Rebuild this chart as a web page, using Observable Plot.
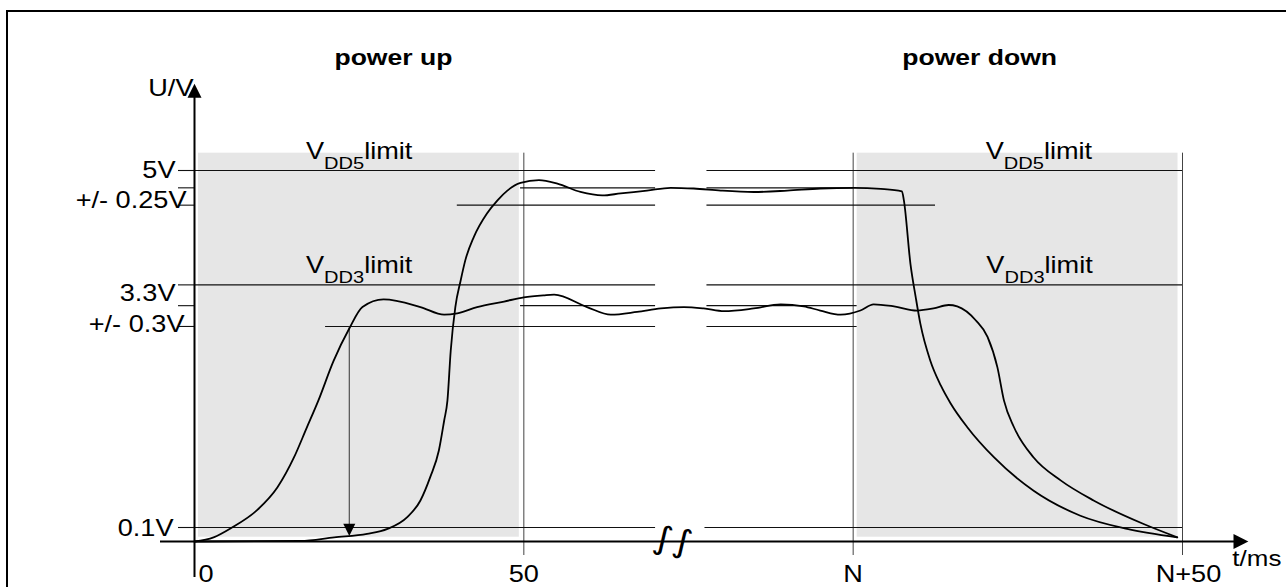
<!DOCTYPE html>
<html>
<head>
<meta charset="utf-8">
<script src="https://cdn.jsdelivr.net/npm/d3@7"></script>
<script src="https://cdn.jsdelivr.net/npm/@observablehq/plot@0.6"></script>
<style>
  html, body { margin: 0; padding: 0; background: #fff; overflow: hidden; }
  #chart { position: relative; width: 1286px; height: 587px; overflow: hidden; }
  #chart svg { display: block; overflow: hidden; }
  #border { position: absolute; left: 6.4px; top: 10.4px; width: 1400px; height: 700px;
            border-left: 2.6px solid #000; border-top: 2.6px solid #000; pointer-events: none; }
</style>
</head>
<body>
<div id="chart"><div id="border"></div></div>
<script>
// ---------- data (t in ms-axis units: 0..50 = power up, 100 = N, 150 = N+50; v in volts) ----------
const vdd3T = [0, 2.9, 5.7, 9.5, 12.6, 15.1, 17.0, 18.8, 21.1, 23.5, 25.5, 28.7, 34.3, 37.9, 39.9, 42.9, 47.0, 50.0, 53.0, 54.6, 59.6, 63.2, 67.2, 70.8, 74.3, 77.3, 80.4, 84.9, 89.0, 92.5, 95.0, 98.1, 101.1, 103.1, 106.2, 109.7, 112.2, 114.5, 115.8, 118.6, 120.4, 121.9, 122.9, 124.4, 127.4, 131.5, 136.5, 144.1, 149.2];
const vdd3V = [0, 0.03, 0.10, 0.35, 0.68, 1.11, 1.53, 1.93, 2.50, 2.97, 3.28, 3.39, 3.28, 3.17, 3.19, 3.28, 3.36, 3.42, 3.45, 3.46, 3.28, 3.17, 3.21, 3.26, 3.28, 3.26, 3.22, 3.26, 3.32, 3.29, 3.23, 3.17, 3.23, 3.32, 3.29, 3.23, 3.26, 3.31, 3.29, 3.09, 2.85, 2.41, 1.93, 1.55, 1.11, 0.78, 0.49, 0.15, 0.03];

const vdd5T = [0, 16.1, 21.2, 26.2, 29.3, 32.3, 34.3, 35.8, 37.1, 37.9, 38.4, 38.9, 39.6, 40.4, 41.1, 42.4, 44.4, 46.0, 47.5, 49.5, 52.3, 55.1, 58.6, 61.9, 64.7, 68.7, 72.3, 75.8, 79.9, 84.9, 90.0, 95.0, 100.1, 104.2, 107.4, 107.7, 108.7, 109.5, 110.2, 111.7, 113.3, 114.8, 117.3, 121.4, 127.4, 134.5, 141.6, 149.2];
const vdd5V = [0, 0.004, 0.03, 0.055, 0.09, 0.25, 0.49, 0.83, 1.21, 1.64, 1.93, 2.65, 3.28, 3.66, 3.95, 4.29, 4.63, 4.82, 4.96, 5.07, 5.11, 5.06, 4.94, 4.89, 4.92, 4.96, 5.0, 4.99, 4.96, 4.94, 4.96, 4.99, 5.0, 4.985, 4.95, 4.82, 3.9, 3.42, 3.04, 2.51, 2.15, 1.89, 1.55, 1.11, 0.63, 0.27, 0.09, 0.03];

// limit / tolerance reference lines (level, start, end)
const refLevel = [5.25, 5.0, 4.75, 3.6, 3.3, 3.0, 0.1, 5.25, 5.0, 4.75, 3.6, 3.3, 3.0, 0.1];
const refStart = [0, 49.5, 39.9, 0, 49.5, 19.9, 0, 77.8, 77.8, 77.8, 77.8, 77.8, 77.8, 77.5];
const refEnd   = [70, 70, 70, 70, 70, 70, 70, 150, 100, 112.5, 150, 100.6, 100.6, 150];

// shaded windows
const shadeStart = [0, 100];
const shadeEnd = [50, 150];
const shadeTop = 5.5;

// axes
const yTickValues = [5.25, 5.0, 4.75, 3.6, 3.3, 3.0, 0.1];
const yTickLabels = ["5V", "", "+/- 0.25V", "3.3V", "", "+/- 0.3V", "0.1V"];
const xTickValues = [0, 50, 100, 150];
const xTickLabels = ["0", "50", "N", "N+50"];
const yAxisTop = 6.5;
const xAxisEnd = 160;
const breakAt = 72.6;

// annotations
const titleText = ["power up", "power down"];
const titleT = [30.2, 119.2];
const titleLevel = 6.77;
const limitText = ["V_DD5limit", "V_DD3limit", "V_DD5limit", "V_DD3limit"];
const limitT = [25, 25, 128.2, 128.3];
const limitLevel = [5.25, 3.6, 5.25, 3.6];
const markerT = 23.5;       // V_DD3 reaches 3.0 V
const markerFrom = 3.0;
const markerTo = 0.04;      // V_DD5 at that instant

// ---------- helpers ----------
const FONT = "'Liberation Sans', Arial, Helvetica, sans-serif";
const idx = (a) => a.map((_, i) => i);
const head = (dir) => ({
  draw(ctx, size) {
    const r = Math.sqrt(size / Math.PI), w = 1.4 * r, h = 2.8 * r;
    if (dir === "up") { ctx.moveTo(0, 0); ctx.lineTo(-w, h); ctx.lineTo(w, h); }
    else if (dir === "down") { ctx.moveTo(0, 0); ctx.lineTo(-w, -h); ctx.lineTo(w, -h); }
    else { ctx.moveTo(0, 0); ctx.lineTo(-h, -w); ctx.lineTo(-h, w); }
    ctx.closePath();
  }
});
const vdd3 = vdd3T.map((t, i) => ({t, v: vdd3V[i]}));
const vdd5 = vdd5T.map((t, i) => ({t, v: vdd5V[i]}));

const yLabel = (i, dx, dy) => Plot.text([i], {
  x: 0, y: (j) => yTickValues[j], text: (j) => yTickLabels[j],
  textAnchor: "end", lineAnchor: "middle", dx, dy, fontSize: 23, fill: "black"
});
const xLabel = (i, anchor, dx) => Plot.text([i], {
  x: (j) => xTickValues[j], y: 0, text: (j) => xTickLabels[j],
  textAnchor: anchor, lineAnchor: "bottom", dx, dy: 40, fontSize: 23, fill: "black"
});

const chart = Plot.plot({
  width: 1286,
  height: 587,
  margin: 0,
  x: {type: "linear", domain: [0, 150], range: [194, 1182], axis: null},
  y: {type: "linear", domain: [0, 0.1, 5.25], range: [541, 527, 170], axis: null},
  style: {fontFamily: FONT, background: "white", color: "black", fontSize: "23px", overflow: "hidden"},
  marks: [
    Plot.rect(idx(shadeStart), {x1: (i) => shadeStart[i], x2: (i) => shadeEnd[i], y1: 0, y2: shadeTop,
      fill: "#e6e6e6", insetLeft: 4, insetRight: 4.5, insetBottom: 4.3}),
    Plot.ruleX(xTickValues.slice(1), {x: (d) => d, y1: shadeTop, y2: 0, insetBottom: -14, stroke: "#444", strokeWidth: 1}),
    Plot.ruleY(idx(refLevel), {y: (i) => refLevel[i], x1: (i) => refStart[i], x2: (i) => refEnd[i], stroke: "#111", strokeWidth: 1.1}),
    Plot.ruleY(yTickValues, {y: (d) => d, x1: 0, x2: 0, insetLeft: -16, stroke: "#111", strokeWidth: 1.1}),
    // marker arrow
    Plot.ruleX([markerT], {x: (d) => d, y1: markerFrom, y2: markerTo, insetBottom: 8, stroke: "#444", strokeWidth: 1.1}),
    Plot.dot([markerT], {x: (d) => d, y: markerTo, symbol: head("down"), r: 4.3, fill: "black", stroke: "none"}),
    // curves
    Plot.line(vdd5, {x: "t", y: "v", curve: "monotone-x", stroke: "black", strokeWidth: 1.8}),
    Plot.line(vdd3, {x: "t", y: "v", curve: "monotone-x", stroke: "black", strokeWidth: 1.8}),
    // axes
    Plot.ruleX([0], {x: (d) => d, y1: yAxisTop - 0.1, y2: 0, insetBottom: -36, stroke: "black", strokeWidth: 2}),
    Plot.ruleY([0], {y: (d) => d, x1: 0, x2: xAxisEnd - 2, insetLeft: -34, stroke: "black", strokeWidth: 2}),
    Plot.dot([0], {x: 0, y: yAxisTop, symbol: head("up"), r: 5, fill: "black", stroke: "none"}),
    Plot.dot([0], {x: xAxisEnd, y: 0, symbol: head("right"), r: 5.3, fill: "black", stroke: "none"}),
    Plot.text(["∫∫"], {x: breakAt, y: 0, text: (d) => d, fontFamily: "DejaVu Sans", fontSize: 32, rotate: 10, lineAnchor: "middle", dy: -1, fill: "black"}),
    // axis labels
    yLabel(0, -19, 0),
    yLabel(2, -8, -5),
    yLabel(3, -19, 9),
    yLabel(5, -10, -2),
    yLabel(6, -21, 1),
    xLabel(0, "start", 4),
    xLabel(1, "middle", 0),
    xLabel(2, "middle", 0),
    xLabel(3, "middle", 6),
    Plot.text(["U/V"], {x: 0, y: yAxisTop, text: (d) => d, textAnchor: "end", lineAnchor: "bottom", dx: -1, dy: 12, fontSize: 23, fill: "black"}),
    Plot.text(["t/ms"], {x: xAxisEnd, y: 0, text: (d) => d, textAnchor: "start", lineAnchor: "bottom", dx: -16, dy: 24, fontSize: 22, fill: "black"}),
    // annotations
    Plot.text(idx(titleText), {x: (i) => titleT[i], y: titleLevel, text: (i) => titleText[i], textAnchor: "middle", lineAnchor: "bottom", fontSize: 22.5, fontWeight: "bold", fill: "black"}),
    Plot.text(idx(limitText), {x: (i) => limitT[i], y: (i) => limitLevel[i], text: (i) => limitText[i], textAnchor: "middle", lineAnchor: "bottom", dy: -12, fontSize: 23, fill: "black"})
  ]
});

// subscripts: "V_DD5limit" -> V<sub>DD5</sub>limit
d3.select(chart).selectAll("text").each(function () {
  const m = /^V_(DD\d)(.*)$/.exec(this.textContent);
  if (!m) return;
  this.textContent = "";
  const t = d3.select(this);
  t.append("tspan").text("V");
  t.append("tspan").attr("dy", 10).attr("font-size", 17).text(m[1]);
  t.append("tspan").attr("dy", -10).text(m[2]);
});

// the reference typography is horizontally stretched
const STRETCH = 1.18;
chart.querySelectorAll("text").forEach((t) => {
  const tr = t.getAttribute("transform");
  if (tr && /translate/.test(tr)) t.setAttribute("transform", tr + ` scale(${STRETCH},1)`);
  else {
    const x = parseFloat(t.getAttribute("x")) || 0;
    t.setAttribute("transform", `translate(${x * (1 - STRETCH)},0) scale(${STRETCH},1)`);
  }
});

const host = document.getElementById("chart");
host.insertBefore(chart, host.firstChild);
</script>
</body>
</html>
